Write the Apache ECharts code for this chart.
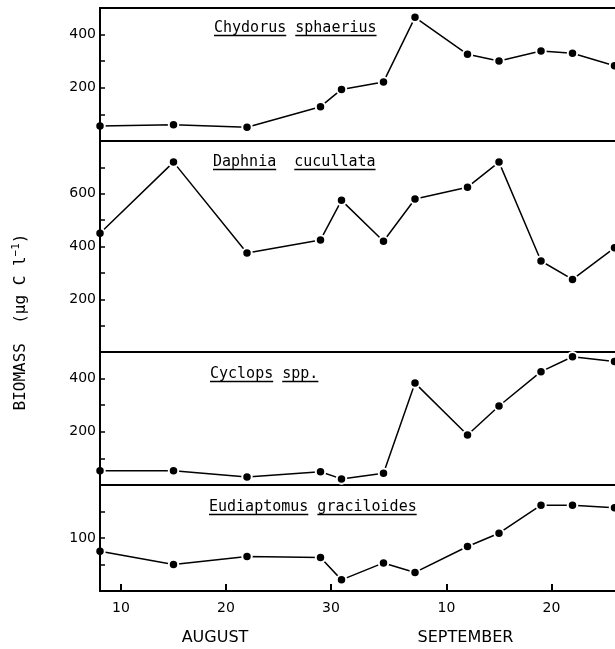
<!DOCTYPE html>
<html>
<head>
<meta charset="utf-8">
<script src="https://cdn.jsdelivr.net/npm/echarts@6/dist/echarts.min.js"></script>
<style>html,body{margin:0;padding:0;background:#fff;}#c{width:615px;height:649px;}</style>
</head>
<body>
<div id="c"></div>
<script>
// ---- data ----
const sampleDates = ['Aug 8','Aug 15','Aug 22','Aug 29','Aug 31','Sep 4','Sep 7','Sep 12','Sep 15','Sep 19','Sep 22','Sep 26'];
const speciesNames = ['Chydorus sphaerius', 'Daphnia  cucullata', 'Cyclops spp.', 'Eudiaptomus graciloides'];
const chydorus    = [56, 61, 52, 129, 194, 222, 465, 326, 301, 338, 330, 283];
const daphnia     = [450, 720, 375, 425, 575, 420, 580, 625, 720, 345, 275, 395];
const cyclops     = [54, 54, 30, 50, 23, 44, 383, 188, 297, 426, 482, 464];
const eudiaptomus = [75, 50, 65, 63, 21, 53, 35, 84, 109, 162, 162, 157];
const xTickDates  = ['Aug 10','Aug 20','Aug 30','Sep 10','Sep 20'];
const xTickLabels = ['10','20','30','10','20'];
const monthLabels = ['AUGUST','SEPTEMBER'];
const yMaxes      = [500, 800, 500, 200];
const ySteps      = [100, 100, 100, 50];
const yTickLabels = [[200,400],[200,400,600],[200,400],[100]];
const yTitle      = 'BIOMASS  (µg C l';
const yTitleSup   = '−1';

// ---- helpers ----
function dayNum(s){ const p = s.split(' '); return (p[0]==='Aug'?0:31) + Number(p[1]); }
const seriesValues = [chydorus, daphnia, cyclops, eudiaptomus];
const xDays = sampleDates.map(dayNum);
const tickDays = xTickDates.map(dayNum);

// ---- layout ----
const gLeft = 100, gWidth = 525;
const tops = [8, 141, 352, 485];
const heights = [133, 211, 133, 106];
const xMin = 8, xMax = 58;

const grids = [], xAxes = [], yAxes = [], series = [];
for (let i = 0; i < 4; i++) {
  grids.push({left: gLeft, width: gWidth, top: tops[i], height: heights[i], show: true,
    outerBoundsMode: 'none', containLabel: false,
    borderColor: '#000', borderWidth: 2, backgroundColor: 'transparent'});
  const last = i === 3;
  xAxes.push({
    type: 'value', gridIndex: i, min: xMin, max: xMax, z: 5,
    splitLine: {show: false},
    axisLine: {show: last, onZero: false, lineStyle: {color: '#000', width: 2}},
    axisTick: last ? {show: true, inside: true, length: 7, customValues: tickDays, lineStyle: {color: '#000', width: 2}} : {show: false},
    axisLabel: last ? {show: true, customValues: tickDays, margin: 10, color: '#000',
      fontFamily: 'DejaVu Sans', fontSize: 14,
      formatter: function(v){ const k = tickDays.indexOf(Math.round(v)); return k >= 0 ? xTickLabels[k] : ''; }} : {show: false}
  });
  const labs = yTickLabels[i];
  yAxes.push({
    type: 'value', gridIndex: i, min: 0, max: yMaxes[i], interval: ySteps[i], z: 5,
    splitLine: {show: false},
    axisLine: {show: true, lineStyle: {color: '#000', width: 2}},
    axisTick: {show: true, inside: true, length: 5, lineStyle: {color: '#000', width: 1.5}},
    axisLabel: {show: true, margin: 4, color: '#000', fontFamily: 'DejaVu Sans', fontSize: 14,
      formatter: function(v){ return labs.indexOf(v) >= 0 ? String(v) : ''; }}
  });
  series.push({
    type: 'line', xAxisIndex: i, yAxisIndex: i,
    data: xDays.map((d, k) => [d, seriesValues[i][k]]),
    symbol: 'circle', symbolSize: 9.5, z: 2,
    itemStyle: {color: '#000', borderColor: '#fff', borderWidth: 2},
    lineStyle: {color: '#000', width: 1.5},
    emphasis: {disabled: true}
  });
}

// ---- species labels with underlines ----
const fs = 15, charW = 0.602 * fs;
const txtX = [214, 213, 210, 209];
const txtY = [28.5, 162.5, 374, 507.5];
const ulY  = [35.5, 169.5, 381.5, 514.5];
const graphics = [];
speciesNames.forEach((name, i) => {
  graphics.push({type: 'text', x: txtX[i], y: txtY[i], z: 10,
    style: {text: name, font: fs + 'px "DejaVu Sans Mono"', fill: '#000',
      textAlign: 'left', align: 'left', textVerticalAlign: 'middle', verticalAlign: 'middle'}});
  let idx = 0;
  name.split(' ').forEach(w => {
    if (w.length) {
      graphics.push({type: 'line', z: 10,
        shape: {x1: txtX[i] + idx * charW, y1: ulY[i], x2: txtX[i] + (idx + w.length) * charW, y2: ulY[i]},
        style: {stroke: '#000', lineWidth: 1.5}});
    }
    idx += w.length + 1;
  });
});
// y axis title
graphics.push({type: 'text', x: 21, y: 322, rotation: Math.PI / 2, z: 10,
  style: {text: yTitle + '{sup|' + yTitleSup + '})', font: '16px "DejaVu Sans Mono"', fill: '#000',
    textAlign: 'center', align: 'center', textVerticalAlign: 'middle', verticalAlign: 'middle',
    rich: {sup: {fontSize: 11, fontFamily: 'DejaVu Sans Mono', verticalAlign: 'top', lineHeight: 20, padding: [0, 0, 8, 0]}}}});
// month labels
const monthX = [215, 465.5];
monthLabels.forEach((m, i) => {
  graphics.push({type: 'text', x: monthX[i], y: 637.5, z: 10,
    style: {text: m, font: '16px "DejaVu Sans"', fill: '#000',
      textAlign: 'center', align: 'center', textVerticalAlign: 'middle', verticalAlign: 'middle'}});
});

const chart = echarts.init(document.getElementById('c'), null, {renderer: 'canvas'});
chart.setOption({
  animation: false,
  backgroundColor: '#fff',
  grid: grids, xAxis: xAxes, yAxis: yAxes, series: series,
  graphic: graphics
});
</script>
</body>
</html>
